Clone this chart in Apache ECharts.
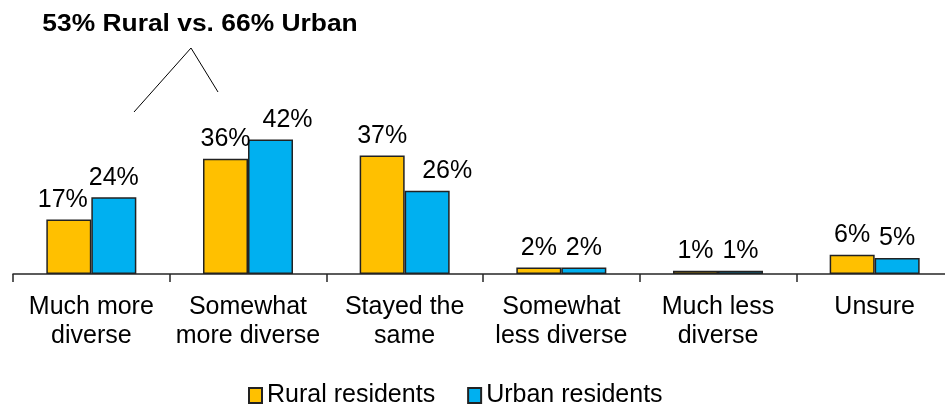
<!DOCTYPE html>
<html>
<head>
<meta charset="utf-8">
<style>html,body{margin:0;padding:0;background:#fff;}#c{width:945px;height:405px;}</style>
<script src="https://cdn.jsdelivr.net/npm/echarts@6/dist/echarts.min.js"></script>
</head>
<body>
<div id="c"></div>
<script>
const categories = ['Much more\ndiverse', 'Somewhat\nmore diverse', 'Stayed the\nsame', 'Somewhat\nless diverse', 'Much less\ndiverse', 'Unsure'];
const rural = [17, 36, 37, 2, 1, 6];
const urban = [24, 42, 26, 2, 1, 5];
const seriesNames = ['Rural residents', 'Urban residents'];
const annotationText = '53% Rural vs. 66% Urban';

const FONT = 'Arial, "Liberation Sans", sans-serif';
// label horizontal nudges (style only)
const ruralLabelShift = [-6, 0, 0, 0, 0, 0];
const urbanLabelShift = [0, 17, 20, 0, 0, 0];

const chart = echarts.init(document.getElementById('c'), null, {renderer: 'canvas'});
function mk(values, shifts) {
  return values.map((v, i) => ({value: v, label: {offset: [shifts[i], 0]}}));
}
const labelCfg = {
  show: true, position: 'top', distance: 7,
  formatter: p => p.value + '%',
  fontFamily: FONT, fontSize: 25, color: '#000'
};
chart.setOption({
  animation: false,
  backgroundColor: '#fff',
  grid: {left: 13, width: 940, top: 114, height: 160, containLabel: false, outerBoundsMode: 'none'},
  xAxis: {
    type: 'category', data: categories,
    axisLine: {lineStyle: {color: '#262626', width: 1.5}},
    axisTick: {show: true, length: 8, inside: false, lineStyle: {color: '#262626', width: 1.5}},
    axisLabel: {fontFamily: FONT, fontSize: 25, color: '#000', lineHeight: 28.5, margin: 19, interval: 0}
  },
  yAxis: {type: 'value', min: 0, max: 50, show: false, splitLine: {show: false}},
  legend: {
    left: 243, top: 378,
    icon: 'rect',
    itemWidth: 13, itemHeight: 15, itemGap: 32,
    textStyle: {fontFamily: FONT, fontSize: 25, color: '#000'},
    data: seriesNames
  },
  series: [
    {name: seriesNames[0], type: 'bar', data: mk(rural, ruralLabelShift), barWidth: 45, barGap: '0%',
     itemStyle: {color: '#FFC000', borderColor: '#222', borderWidth: 1.5}, label: labelCfg},
    {name: seriesNames[1], type: 'bar', data: mk(urban, urbanLabelShift), barWidth: 45, barGap: '0%',
     itemStyle: {color: '#00B0F0', borderColor: '#222', borderWidth: 1.5}, label: labelCfg}
  ],
  graphic: [
    {type: 'text', x: 200, y: 24, scaleX: 1.1, style: {text: annotationText, fontFamily: FONT, fontSize: 24, fontWeight: 'bold', fill: '#000', align: 'center', verticalAlign: 'middle'}},
    {type: 'polyline', shape: {points: [[134, 112], [191, 48], [218, 92]]}, style: {stroke: '#000', lineWidth: 1, fill: null}}
  ]
});
</script>
</body>
</html>
